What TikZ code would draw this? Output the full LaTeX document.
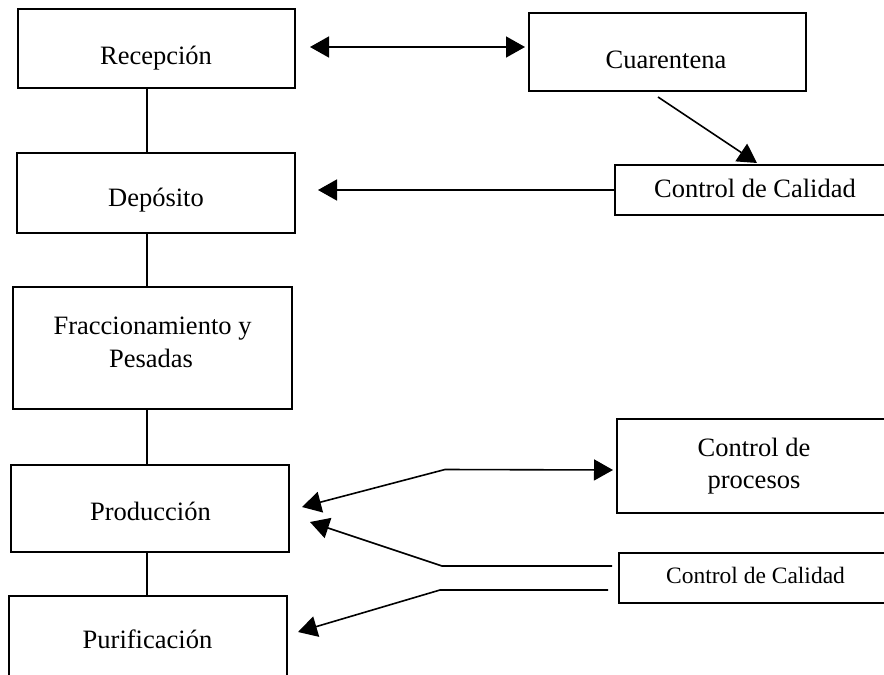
\documentclass[tikz,border=0pt]{standalone}
\usepackage{fontspec}
\setmainfont{Liberation Serif}
\usetikzlibrary{arrows.meta,calc}
\begin{document}
\begin{tikzpicture}[x=1pt,y=-1pt,
  >={Triangle[length=19pt,width=21pt]},
  box/.style={draw, line width=1.6pt, rectangle, inner sep=0pt, outer sep=0pt},
  lbl/.style={anchor=base, inner sep=0pt, font=\fontsize{26.5}{30}\selectfont},
  lblsmall/.style={anchor=base, inner sep=0pt, font=\fontsize{23.5}{28}\selectfont},
  link/.style={line width=1.6pt, line join=round}]
\useasboundingbox (0,0) rectangle (884,675);
\clip (0,0) rectangle (884,675);

% process boxes (left column)
\node[box, minimum width=277pt, minimum height=79pt]  (rec)  at (156.5,48.5) {};
\node[box, minimum width=278pt, minimum height=80pt]  (dep)  at (156,193) {};
\node[box, minimum width=279pt, minimum height=122pt] (frac) at (152.5,348) {};
\node[box, minimum width=278pt, minimum height=87pt]  (prod) at (150,508.5) {};
\node[box, minimum width=278pt, minimum height=104pt] (puri) at (148,648) {};

% control boxes (right column)
\node[box, minimum width=277pt, minimum height=78pt]  (cua)  at (667.5,52) {};
\node[box, minimum width=280pt, minimum height=50pt]  (cdc1) at (755,190) {};
\node[box, minimum width=274pt, minimum height=94pt]  (cp)   at (754,466) {};
\node[box, minimum width=273pt, minimum height=50pt]  (cdc2) at (755.5,578) {};

% labels
\node[lbl] (recT)  at (156,64)   {Recepción};
\node[lbl] (depT)  at (156,206)  {Depósito};
\node[lbl] (fracT) at (152.5,334) {Fraccionamiento y};
\node[lbl] (fracU) at (151,367)  {Pesadas};
\node[lbl] (prodT) at (150.5,520) {Producción};
\node[lbl] (puriT) at (147.5,648) {Purificación};
\node[lbl] (cuaT)  at (666,68)   {Cuarentena};
\node[lbl] (cdc1T) at (755,197)  {Control de Calidad};
\node[lbl] (cpT)   at (754,456)  {Control de};
\node[lbl] (cpU)   at (754,488)  {procesos};
\node[lblsmall] (cdc2T) at (755.5,583) {Control de Calidad};

% main flow spine
\coordinate (spine) at (147,0);
\draw[link] (rec.south -| spine)  -- (dep.north -| spine);
\draw[link] (dep.south -| spine)  -- (frac.north -| spine);
\draw[link] (frac.south -| spine) -- (prod.north -| spine);
\draw[link] (prod.south -| spine) -- (puri.north -| spine);

% reception <-> quarantine
\draw[link,<->] ($(rec.east)+(15,-1.5)$) -- ($(cua.west)+(-4,-5)$);

% quarantine -> quality control
\draw[link,->] ($(cua.south)+(-9.5,6)$) -- ($(cdc1.north)+(2,-2)$);

% quality control -> storage
\draw[link,->] (cdc1.west) -- ($(dep.east)+(23,-3)$);

% production <-> process control
\coordinate (j1) at (445,469.5);
\draw[link,<->] ($(prod.east)+(13,-1.5)$) -- (j1) -- ($(cp.west)+(-4,4)$);

% quality control -> production and purification
\coordinate (q2) at ($(cdc2.west)+(-7,-12)$);
\coordinate (j2) at (442,566);
\draw[link,->] (q2) -- (j2) -- ($(prod.east)+(21,13.5)$);
\coordinate (q3) at ($(cdc2.west)+(-11,12)$);
\coordinate (j3) at (440,590);
\draw[link,->] (q3) -- (j3) -- ($(puri.east)+(11,-16)$);
\end{tikzpicture}
\end{document}
